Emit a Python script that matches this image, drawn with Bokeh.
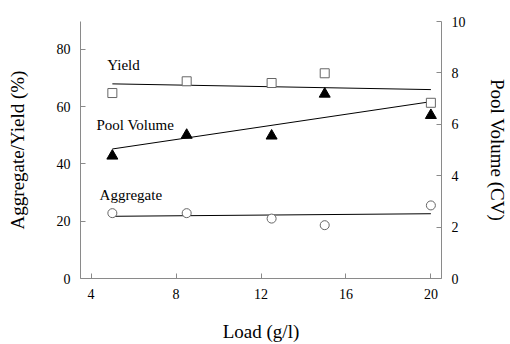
from bokeh.plotting import figure
from bokeh.models import Range1d, LinearAxis, FixedTicker, ColumnDataSource
from bokeh.core.properties import value
from bokeh.embed import file_html
from bokeh.resources import INLINE

load = [5, 8.5, 12.5, 15, 20]
yield_pct = [64.7, 68.8, 68.2, 71.6, 61.3]
aggregate_pct = [22.8, 22.8, 20.9, 18.6, 25.5]
pool_volume_cv = [4.77, 5.58, 5.55, 7.18, 6.35]

fit_x = [5, 20]
yield_fit = [67.9, 65.9]
aggregate_fit = [21.7, 22.6]
pool_fit = [5.04, 6.88]

x_ticks = [4, 8, 12, 16, 20]
left_ticks = [0, 20, 40, 60, 80]
right_ticks = [0, 2, 4, 6, 8, 10]

label_names = ["Yield", "Pool Volume", "Aggregate"]
label_x = [4.76, 4.25, 4.4]
label_y = [74.5, 53.4, 29.3]

FONT = "Liberation Serif"
AXC = "#8a8a8a"

p = figure(width=510, height=344, output_backend="svg", toolbar_location=None,
           x_range=Range1d(3.5, 20.5), y_range=Range1d(0, 89.66),
           min_border_left=80, min_border_right=67, min_border_top=21, min_border_bottom=63,
           x_axis_location=None, y_axis_location=None)
p.outline_line_color = None
p.grid.visible = False
p.extra_y_ranges = {"pool": Range1d(0, 10)}

def style(ax, ticks, standoff, label_standoff):
    ax.ticker = FixedTicker(ticks=ticks)
    ax.axis_line_color = AXC
    ax.major_tick_line_color = AXC
    ax.minor_tick_line_color = None
    ax.major_tick_in = 5
    ax.major_tick_out = 0
    ax.major_label_text_font = FONT
    ax.major_label_text_font_size = "14px"
    ax.major_label_text_color = "black"
    ax.major_label_standoff = standoff
    ax.axis_label_text_font = FONT
    ax.axis_label_text_font_size = "19px"
    ax.axis_label_text_font_style = "normal"
    ax.axis_label_text_color = "black"
    ax.axis_label_standoff = label_standoff

xa = LinearAxis(axis_label="Load (g/l)")
style(xa, x_ticks, 10, 19)
p.add_layout(xa, "below")

ya = LinearAxis(axis_label="Aggregate/Yield (%)")
style(ya, left_ticks, 10, 26)
p.add_layout(ya, "left")

ra = LinearAxis(axis_label="Pool Volume (CV)", y_range_name="pool")
style(ra, right_ticks, 10, 18)
p.add_layout(ra, "right")

p.line(fit_x, yield_fit, line_color="black", line_width=1)
p.line(fit_x, aggregate_fit, line_color="black", line_width=1)
p.line(fit_x, pool_fit, line_color="black", line_width=1, y_range_name="pool")

p.scatter(load, yield_pct, marker="square", size=9, fill_color="white",
          line_color="#666666", line_width=1)
p.scatter(load, aggregate_pct, marker="circle", size=9, fill_color="white",
          line_color="#666666", line_width=1)
p.scatter(load, pool_volume_cv, marker="triangle", size=11, fill_color="black",
          line_color="black", y_range_name="pool")

src = ColumnDataSource(dict(x=label_x, y=label_y, t=label_names))
p.text(x="x", y="y", text="t", source=src, text_font=value(FONT),
       text_font_size="15px", text_align="left", text_baseline="middle",
       text_color="black")

open("out.html", "w").write(file_html(p, INLINE))
